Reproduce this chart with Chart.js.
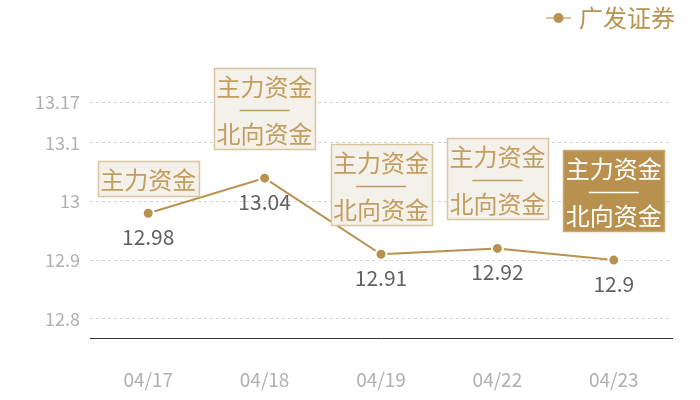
<!DOCTYPE html>
<html>
<head>
<meta charset="utf-8">
<script src="https://cdn.jsdelivr.net/npm/chart.js@4"></script>
<style>
  html, body { margin: 0; padding: 0; background: #fff; }
  #wrap { width: 700px; height: 400px; }
</style>
</head>
<body>
<div id="wrap"><canvas id="c"></canvas></div>
<script>
const dates = ['04/17', '04/18', '04/19', '04/22', '04/23'];
const prices = [12.98, 13.04, 12.91, 12.92, 12.9];
const yTicks = [12.8, 12.9, 13, 13.1, 13.17];
const seriesName = '广发证券';
// tag lines shown above each point; the last one is highlighted
const tags = [
    ['主力资金'],
    ['主力资金', '北向资金'],
    ['主力资金', '北向资金'],
    ['主力资金', '北向资金'],
    ['主力资金', '北向资金']
];
const activeIndex = 4;

const GOLD = '#b8914f';
const FONT = '"Noto Sans CJK SC", "Noto Sans", sans-serif';

// legend marker: short line with a dot (drawn on the right so it sits close to the text)
const marker = document.createElement('canvas');
marker.width = 36; marker.height = 12;
(function () {
    const g = marker.getContext('2d');
    g.strokeStyle = '#d8c39e'; g.lineWidth = 2;
    g.beginPath(); g.moveTo(10, 6); g.lineTo(35, 6); g.stroke();
    g.fillStyle = GOLD;
    g.beginPath(); g.arc(22.5, 6, 5, 0, Math.PI * 2); g.fill();
})();

// push the plot area down below the legend, nudge the legend to the right
const legendSpace = {
    id: 'legendSpace',
    beforeInit(chart) {
        const fit = chart.legend.fit;
        chart.legend.fit = function () {
            fit.bind(chart.legend)();
            this.height += 62;
        };
    },
    afterLayout(chart) {
        chart.legend.left += 7;
        chart.legend.right += 7;
    }
};

const tagPlugin = {
    id: 'tags',
    afterDatasetsDraw(chart) {
        const ctx = chart.ctx;
        const meta = chart.getDatasetMeta(0);
        ctx.save();
        meta.data.forEach(function (pt, i) {
            // value under the point
            ctx.font = '21px ' + FONT;
            ctx.fillStyle = '#606060';
            ctx.textAlign = 'center';
            ctx.textBaseline = 'middle';
            ctx.fillText(String(prices[i]), pt.x, pt.y + 24);

            const lines = tags[i];
            const w = 101;
            const h = lines.length > 1 ? 81 : 35;
            const gap = lines.length > 1 ? 29 : 17;
            const x0 = Math.round(pt.x - w / 2) + 0.5;
            const y0 = Math.round(pt.y - gap - h) + 0.5;
            const on = i === activeIndex;
            ctx.fillStyle = on ? GOLD : '#f4f0ea';
            ctx.fillRect(x0, y0, w, h);
            ctx.strokeStyle = on ? '#c9a76f' : '#dbc5a0';
            ctx.lineWidth = 1.5;
            ctx.strokeRect(x0, y0, w, h);
            ctx.fillStyle = on ? '#ffffff' : '#c19d5f';
            ctx.font = '24px ' + FONT;
            if (lines.length > 1) {
                ctx.fillText(lines[0], pt.x, y0 + 18);
                ctx.strokeStyle = on ? '#ffffff' : '#c19d5f';
                ctx.lineWidth = 1.6;
                ctx.beginPath();
                ctx.moveTo(pt.x - 25, y0 + 42);
                ctx.lineTo(pt.x + 25, y0 + 42);
                ctx.stroke();
                ctx.fillText(lines[1], pt.x, y0 + 65);
            } else {
                ctx.fillText(lines[0], pt.x, y0 + h / 2 + 1);
            }
        });
        ctx.restore();
    }
};

new Chart(document.getElementById('c'), {
    type: 'line',
    data: {
        labels: dates,
        datasets: [{
            label: seriesName,
            data: prices,
            borderColor: GOLD,
            backgroundColor: GOLD,
            borderWidth: 2,
            tension: 0,
            pointRadius: 5.5,
            pointBorderWidth: 2,
            pointBorderColor: '#ffffff',
            pointBackgroundColor: GOLD,
            pointStyle: 'circle'
        }]
    },
    options: {
        responsive: true,
        maintainAspectRatio: false,
        animation: false,
        layout: { padding: { top: 2, right: 28, left: 0, bottom: 0 } },
        plugins: {
            legend: {
                position: 'top',
                align: 'end',
                labels: {
                    usePointStyle: true,
                    pointStyle: marker,
                    pointStyleWidth: 26,
                    color: '#b8924f',
                    font: { family: FONT, size: 24 },
                    padding: 4
                }
            },
            tooltip: { enabled: false }
        },
        scales: {
            x: {
                offset: true,
                grid: { display: false },
                border: { display: true, color: '#333333', width: 1 },
                ticks: { color: '#b0b0b0', padding: 22, font: { family: FONT, size: 19 } },
                afterFit(scale) { scale.height = 62; }
            },
            y: {
                min: 12.767,
                max: 13.17,
                afterBuildTicks(scale) { scale.ticks = yTicks.map(v => ({ value: v })); },
                grid: { color: '#d0d0d0', drawTicks: false, lineWidth: 1 },
                border: { display: false, dash: [3, 3] },
                ticks: {
                    color: '#b0b0b0',
                    padding: 10,
                    font: { family: FONT, size: 18 },
                    callback: v => String(v)
                },
                afterFit(scale) { scale.width = 90; }
            }
        }
    },
    plugins: [legendSpace, tagPlugin]
});
</script>
</body>
</html>
